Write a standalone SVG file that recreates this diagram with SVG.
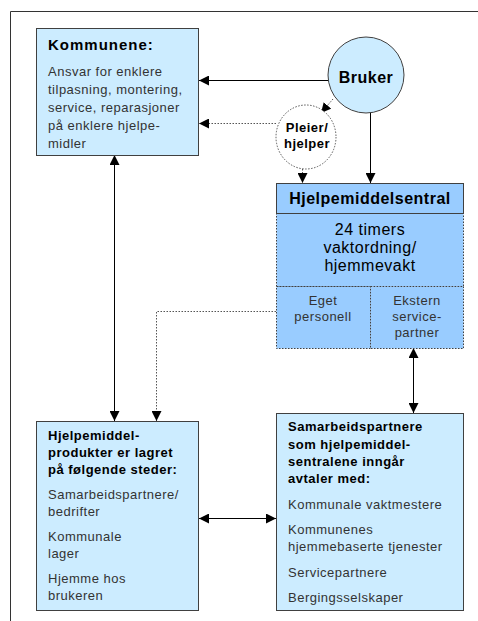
<svg xmlns="http://www.w3.org/2000/svg" width="478" height="621" viewBox="0 0 478 621">
<style>
text{font-family:"Liberation Sans",Arial,sans-serif;letter-spacing:0.5px}
.box{fill:#CCECFF;stroke:#404040;stroke-width:1}
.central{fill:#99CCFF;stroke:#404040;stroke-width:1}
.centraldot{fill:#99CCFF;stroke:#404040;stroke-width:1;stroke-dasharray:1.5 1.5}
.ttl{font-size:13px;font-weight:bold;fill:#000}
.body{font-size:13px;fill:#333}
.line{fill:none;stroke:#000;stroke-width:1}
.dot{fill:none;stroke:#555;stroke-width:1;stroke-dasharray:1.5 1.5}
</style>
<defs>
<marker id="ah" markerWidth="10" markerHeight="10" refX="10" refY="5" orient="auto-start-reverse" markerUnits="userSpaceOnUse" viewBox="0 0 10 10">
<path d="M0,0 L10,5 L0,10 Z" fill="#000"/>
</marker>
</defs>
<rect width="478" height="621" fill="#fff"/>
<path d="M10.5,621 V11.5 H478" fill="none" stroke="#333" stroke-width="1"/>

<g id="connectors">
<line class="line" x1="328" y1="80.5" x2="199" y2="80.5" marker-end="url(#ah)"/>
<line class="dot" x1="276" y1="123.5" x2="199" y2="123.5" marker-end="url(#ah)"/>
<line class="dot" x1="333" y1="99" x2="321" y2="113" marker-end="url(#ah)"/>
<line class="dot" x1="302.5" y1="169" x2="302.5" y2="183" marker-end="url(#ah)"/>
<line class="line" x1="370.5" y1="113" x2="370.5" y2="183" marker-end="url(#ah)"/>
<line class="line" x1="114.5" y1="155" x2="114.5" y2="421" marker-start="url(#ah)" marker-end="url(#ah)"/>
<path class="dot" d="M276,311.5 H156.5 V421" marker-end="url(#ah)"/>
<line class="line" x1="413.5" y1="348" x2="413.5" y2="413" marker-start="url(#ah)" marker-end="url(#ah)"/>
<line class="line" x1="199" y1="518.5" x2="276" y2="518.5" marker-start="url(#ah)" marker-end="url(#ah)"/>
</g>

<g id="kommunene">
<rect class="box" x="36.5" y="28.5" width="162" height="127"/>
<text x="48" y="50" font-size="15" font-weight="bold" fill="#000" style="letter-spacing:1px">Kommunene:</text>
<text class="body" x="48" y="76">Ansvar for enklere</text>
<text class="body" x="48" y="94">tilpasning, montering,</text>
<text class="body" x="48" y="112">service, reparasjoner</text>
<text class="body" x="48" y="130">på enklere hjelpe-</text>
<text class="body" x="48" y="148">midler</text>
</g>

<g id="bruker">
<circle cx="366" cy="75" r="38" fill="#CCECFF" stroke="#404040" stroke-width="1"/>
<text x="366" y="83" text-anchor="middle" font-size="16" font-weight="bold" fill="#000">Bruker</text>
</g>

<g id="pleier">
<ellipse cx="306" cy="137" rx="30" ry="32" fill="#fff" stroke="#555" stroke-width="1" stroke-dasharray="1.5 1.5"/>
<text class="ttl" x="307" y="132" text-anchor="middle">Pleier/</text>
<text class="ttl" x="307" y="148" text-anchor="middle">hjelper</text>
</g>

<g id="hjelpemiddelsentral">
<rect class="centraldot" x="276.5" y="213.5" width="187" height="73"/>
<rect class="centraldot" x="276.5" y="286.5" width="94" height="62"/>
<rect class="centraldot" x="370.5" y="286.5" width="93" height="62"/>
<rect class="central" x="276.5" y="183.5" width="187" height="30"/>
<text x="370" y="204" text-anchor="middle" font-size="16" font-weight="bold" fill="#000">Hjelpemiddelsentral</text>
<text x="370" y="235" text-anchor="middle" font-size="16" fill="#000">24 timers</text>
<text x="370" y="253" text-anchor="middle" font-size="16" fill="#000">vaktordning/</text>
<text x="370" y="271" text-anchor="middle" font-size="16" fill="#000">hjemmevakt</text>
<text class="body" x="323" y="305" text-anchor="middle">Eget</text>
<text class="body" x="323" y="321" text-anchor="middle">personell</text>
<text class="body" x="417" y="305" text-anchor="middle">Ekstern</text>
<text class="body" x="417" y="321" text-anchor="middle">service-</text>
<text class="body" x="417" y="337" text-anchor="middle">partner</text>
</g>

<g id="produkter">
<rect class="box" x="36.5" y="421.5" width="162" height="189"/>
<text class="ttl" x="48" y="440">Hjelpemiddel-</text>
<text class="ttl" x="48" y="457">produkter er lagret</text>
<text class="ttl" x="48" y="474">på følgende steder:</text>
<text class="body" x="48" y="499">Samarbeidspartnere/</text>
<text class="body" x="48" y="516">bedrifter</text>
<text class="body" x="48" y="541">Kommunale</text>
<text class="body" x="48" y="558">lager</text>
<text class="body" x="48" y="583">Hjemme hos</text>
<text class="body" x="48" y="600">brukeren</text>
</g>

<g id="samarbeidspartnere">
<rect class="box" x="276.5" y="413.5" width="187" height="197"/>
<text class="ttl" x="288" y="431">Samarbeidspartnere</text>
<text class="ttl" x="288" y="449">som hjelpemiddel-</text>
<text class="ttl" x="288" y="466">sentralene inngår</text>
<text class="ttl" x="288" y="483">avtaler med:</text>
<text class="body" x="288" y="509">Kommunale vaktmestere</text>
<text class="body" x="288" y="534">Kommunenes</text>
<text class="body" x="288" y="551">hjemmebaserte tjenester</text>
<text class="body" x="288" y="577">Servicepartnere</text>
<text class="body" x="288" y="602">Bergingsselskaper</text>
</g>
</svg>
